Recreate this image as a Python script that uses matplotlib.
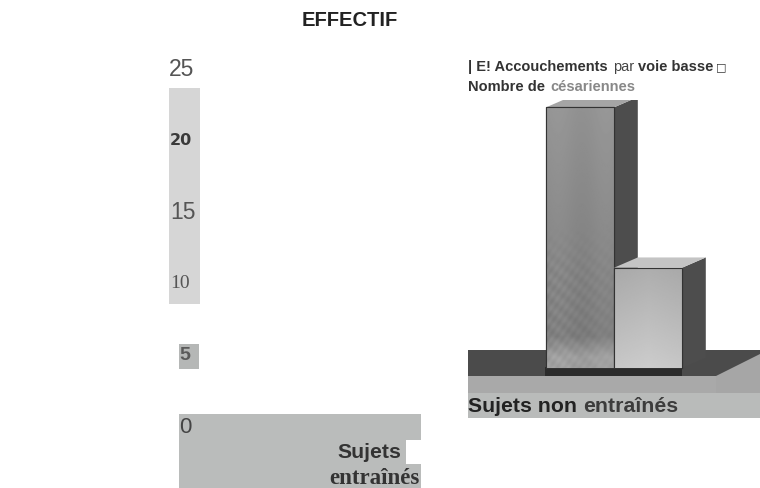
import numpy as np
import matplotlib
matplotlib.use("Agg")
import matplotlib.pyplot as plt
from matplotlib.patches import Rectangle, Polygon

# valeurs
bar_names = ['Accouchements par voie basse', 'Nombre de césariennes']
bar_values = [18.2, 7.0]
y_ticks = [25, 20, 15, 10, 5, 0]
y_labels = ['25', '20', '15', '10', '5', '0']
group_labels = ['Sujets non', 'entraînés', 'Sujets', 'entraînés']

PX = 14.32  # pixels par unite
SANS = 'Liberation Sans'
SERIF = 'Liberation Serif'
fig = plt.figure(figsize=(7.6, 4.88), dpi=100)

# fond en pixels
bg = fig.add_axes([0, 0, 1, 1], zorder=0)
bg.set_xlim(0, 760)
bg.set_ylim(488, 0)
bg.axis('off')

bg.add_patch(Rectangle((169, 88), 31, 216, color='#d6d6d6', lw=0))
bg.add_patch(Rectangle((179, 344), 20, 25, color='#b5b7b6', lw=0))
bg.add_patch(Rectangle((179, 414), 242, 74, color='#babcbb', lw=0))
bg.add_patch(Rectangle((406, 440), 15, 24, color='white', lw=0))

# sol de la photo
bg.add_patch(Rectangle((468, 350), 292, 27, color='#4b4b4b', lw=0))
bg.add_patch(Rectangle((468, 376), 292, 18, color='#a9a9a9', lw=0))
bg.add_patch(Polygon([(716, 376), (760, 354), (760, 394), (716, 394)], color='#a6a6a6', lw=0))
bg.add_patch(Rectangle((468, 393), 292, 25, color='#b9bbba', lw=0))
bg.add_patch(Rectangle((545, 367), 137, 9, color='#2b2b2b', lw=0))

# echelle de gauche
ax = fig.add_axes([0, 0, 1, 1], zorder=1)
ax.patch.set_alpha(0)
ax.set_xlim(0, 760)
ax.set_ylim(-(488 - 425) / PX, 425 / PX)
ax.axis('off')
styles = [
    dict(x=169, fontsize=16.5, family=SANS, color='#555555'),
    dict(x=170, fontsize=11.5, family='DejaVu Sans', weight='bold', color='#3a3a3a'),
    dict(x=170, fontsize=16.5, family=SANS, color='#555555'),
    dict(x=170, fontsize=14, family=SERIF, color='#555555'),
    dict(x=179, fontsize=14, family=SANS, weight='bold', color='#5a5a5a'),
    dict(x=179, fontsize=16, family=SANS, color='#444444'),
]
for v, lab, st in zip(y_ticks, y_labels, styles):
    ax.text(st.pop('x'), v, lab, ha='left', va='center_baseline', **st)

# barres
ax2 = fig.add_axes([468 / 760, (488 - 420) / 488, 292 / 760, 320 / 488], zorder=2)
ax2.patch.set_alpha(0)
ax2.axis('off')

dx, dy = 0.35, 0.72
bars = ax2.bar([0, 1], bar_values, width=1, color='#999999', edgecolor='#333333', lw=0.8)

yy, xx = np.mgrid[0:1:260j, 0:1:70j]
ramp = np.clip((yy - 0.45) / 0.2, 0, 1)
tex_tall = 0.58 - 0.1 * yy + 0.012 * np.sin(xx * 9)
tex_tall += ramp * 0.03 * np.sin(xx * 41 + yy * 23) * np.sin(yy * 131 + xx * 17) * (1 - 0.6 * xx)
tex_tall += np.clip((yy - 0.88) / 0.08, 0, 1) * 0.14
tex_short = 0.68 + 0.12 * yy - 0.04 * np.abs(xx - 0.5)

for i, (b, v) in enumerate(zip(bars, bar_values)):
    # face laterale et dessus
    ax2.add_patch(Polygon([(i + .5, v), (i + .5 + dx, v + dy), (i + .5 + dx, dy), (i + .5, 0)],
                          color='#4d4d4d', lw=0, zorder=1 + 2 * i))
    ax2.add_patch(Polygon([(i - .5, v), (i - .5 + dx, v + dy), (i + .5 + dx, v + dy), (i + .5, v)],
                          color='#c4c4c4' if i else '#a5a5a5', lw=0, zorder=1 + 2 * i))
    b.set_zorder(2 + 2 * i)
    im = ax2.imshow(tex_short if i else tex_tall, cmap='gray', vmin=0, vmax=1, aspect='auto',
                    extent=(i - .5, i + .5, 0, v), zorder=2 + 2 * i + .5, interpolation='bilinear')
    im.set_clip_path(b)
    ax2.plot([i - .5, i - .5, i + .5, i + .5], [0, v, v, 0], color='#333333', lw=0.8, zorder=3 + 2 * i)
ax2.set_xlim(-1.647, 2.647)
ax2.set_ylim(-(420 - 368) / PX, (368 - 100) / PX)

# textes
top = fig.add_axes([0, 0, 1, 1], zorder=5)
top.patch.set_alpha(0)
top.set_xlim(0, 760)
top.set_ylim(488, 0)
top.axis('off')

top.text(350, 20, 'EFFECTIF', ha='center', va='center', fontsize=14.5, weight='bold', family=SANS, color='#222222')
top.text(468, 67, '| E! Accouchements', ha='left', va='center', fontsize=10.5, weight='bold', family=SANS, color='#333333')
top.text(613, 67, 'par', ha='left', va='center', fontsize=10.5, family=SANS, color='#444444')
top.text(638, 67, 'voie basse', ha='left', va='center', fontsize=10.5, weight='bold', family=SANS, color='#333333')
top.text(716, 67, '□', ha='left', va='center', fontsize=8, family='DejaVu Sans', color='#333333')
top.text(468, 87, 'Nombre de', ha='left', va='center', fontsize=10.5, weight='bold', family=SANS, color='#333333')
top.text(550, 87, bar_names[1].split()[-1], ha='left', va='center', fontsize=10.5, weight='bold', family=SANS, color='#888888')

top.text(468, 406, group_labels[0], ha='left', va='center', fontsize=15.3, weight='bold', family=SANS, color='#222222')
top.text(583, 406, group_labels[1], ha='left', va='center', fontsize=15.3, weight='bold', family=SANS, color='#3c3c3c')
top.text(401, 452, group_labels[2], ha='right', va='center', fontsize=15.3, weight='bold', family=SANS, color='#333333')
top.text(420, 478, group_labels[3], ha='right', va='center', fontsize=16.5, weight='bold', family=SERIF, color='#333333')

fig.savefig('out.png', dpi=100)
